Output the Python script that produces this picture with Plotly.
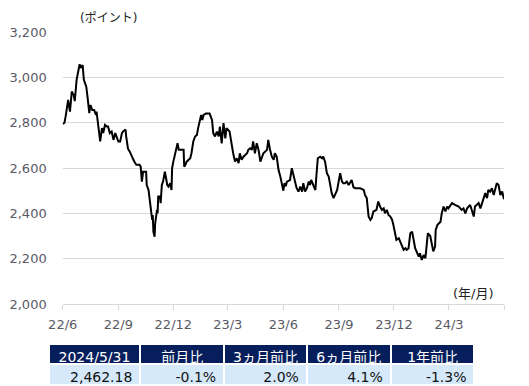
import plotly.graph_objects as go

dates = [
"2022-06-01","2022-06-04","2022-06-06","2022-06-08","2022-06-10","2022-06-13","2022-06-16","2022-06-19","2022-06-21","2022-06-24",
"2022-06-27","2022-06-29","2022-07-01","2022-07-04","2022-07-06","2022-07-10","2022-07-12","2022-07-15","2022-07-17","2022-07-20",
"2022-07-23","2022-07-26","2022-07-27","2022-07-30","2022-08-02","2022-08-05","2022-08-07","2022-08-10","2022-08-13","2022-08-15",
"2022-08-18","2022-08-21","2022-08-24","2022-08-27","2022-08-29","2022-09-01","2022-09-04","2022-09-07","2022-09-09","2022-09-13",
"2022-09-14","2022-09-17","2022-09-20","2022-09-23","2022-09-26","2022-09-29","2022-10-01","2022-10-06",
"2022-10-08","2022-10-10","2022-10-12","2022-10-17","2022-10-18","2022-10-21","2022-10-23","2022-10-25","2022-10-27","2022-10-28",
"2022-10-29","2022-10-31","2022-11-01","2022-11-04","2022-11-05","2022-11-06","2022-11-09","2022-11-10","2022-11-12","2022-11-14",
"2022-11-17","2022-11-19","2022-11-21","2022-11-23","2022-11-26","2022-11-28","2022-11-29","2022-12-01","2022-12-03","2022-12-06",
"2022-12-08","2022-12-10","2022-12-15","2022-12-18","2022-12-19","2022-12-21","2022-12-23","2022-12-26","2022-12-29","2022-12-31",
"2023-01-03","2023-01-06","2023-01-09","2023-01-11","2023-01-14","2023-01-16","2023-01-18","2023-01-20","2023-01-24","2023-01-28",
"2023-01-30","2023-02-03",
"2023-02-05","2023-02-08","2023-02-11","2023-02-14","2023-02-16","2023-02-19","2023-02-22","2023-02-25","2023-02-27","2023-03-04",
"2023-03-08","2023-03-10","2023-03-13","2023-03-16","2023-03-19","2023-03-21","2023-03-24","2023-03-27","2023-04-02","2023-04-04",
"2023-04-07","2023-04-10","2023-04-12","2023-04-15","2023-04-18","2023-04-21","2023-04-24","2023-04-29","2023-05-05","2023-05-07",
"2023-05-10","2023-05-13","2023-05-16","2023-05-18","2023-05-21",
"2023-05-24","2023-05-27","2023-05-29","2023-06-01","2023-06-03","2023-06-05","2023-06-07","2023-06-12","2023-06-15","2023-06-18",
"2023-06-21","2023-06-23","2023-06-26","2023-06-29","2023-07-02","2023-07-04","2023-07-07","2023-07-10","2023-07-13","2023-07-15",
"2023-07-17","2023-07-21","2023-07-24","2023-07-26","2023-07-28","2023-08-01","2023-08-04","2023-08-06","2023-08-09","2023-08-12",
"2023-08-15","2023-08-17","2023-08-20","2023-08-23","2023-08-26","2023-08-29","2023-08-31","2023-09-03","2023-09-06","2023-09-08",
"2023-09-11","2023-09-14","2023-09-17","2023-09-20","2023-09-22","2023-09-25","2023-09-28",
"2023-10-06","2023-10-12","2023-10-14","2023-10-17","2023-10-20","2023-10-23","2023-10-25","2023-10-28","2023-11-02","2023-11-05",
"2023-11-08","2023-11-11","2023-11-14","2023-11-16","2023-11-19","2023-11-22","2023-11-25","2023-11-28","2023-11-30","2023-12-05",
"2023-12-09","2023-12-11","2023-12-14","2023-12-17","2023-12-20","2023-12-22","2023-12-25","2023-12-28","2023-12-31","2024-01-02",
"2024-01-05","2024-01-11","2024-01-13","2024-01-16","2024-01-19","2024-01-22","2024-01-25","2024-01-26","2024-01-30","2024-02-02",
"2024-02-04","2024-02-07",
"2024-02-08","2024-02-11","2024-02-16","2024-02-18","2024-02-21","2024-02-24","2024-02-27","2024-02-29","2024-03-06","2024-03-11",
"2024-03-17","2024-03-22","2024-03-25","2024-03-28","2024-03-31","2024-04-05","2024-04-08","2024-04-11","2024-04-13","2024-04-19",
"2024-04-22","2024-04-25","2024-04-27","2024-04-30","2024-05-03","2024-05-05","2024-05-08","2024-05-11","2024-05-14","2024-05-17",
"2024-05-19","2024-05-22","2024-05-25","2024-05-28","2024-05-31",
]

values = [
2795,2800,2830,2878,2900,2849,2937,2923,2895,2989,
3040,3058,3041,3054,2989,2959,2915,2842,2878,2856,
2856,2834,2849,2790,2717,2776,2754,2790,2783,2783,
2754,2761,2724,2754,2739,2717,2717,2754,2761,2770,
2740,2685,2672,2650,2636,2621,2614,2614,
2606,2540,2584,2584,2525,2503,2459,2400,2371,2393,
2319,2297,2356,2415,2400,2474,2474,2445,2525,2540,
2584,2555,2525,2518,2533,2503,2599,2628,2650,2687,
2709,2680,2680,2680,2606,2614,2628,2636,2643,2665,
2717,2739,2746,2776,2812,2834,2812,2834,2840,2838,
2840,2812,
2754,2739,2761,2739,2783,2709,2798,2731,2776,2761,
2680,2665,2628,2643,2621,2665,2636,2650,2665,2680,
2687,2680,2717,2665,2709,2680,2628,2665,2680,2724,
2680,2650,2636,2665,2650,
2592,2562,2540,2500,2533,2520,2540,2547,2599,2562,
2533,2511,2496,2518,2496,2533,2496,2511,2540,2525,
2547,2525,2503,2577,2643,2650,2643,2650,2628,2577,
2562,2533,2489,2467,2489,2503,2533,2577,2540,2533,
2533,2540,2525,2540,2547,2515,2511,
2511,2503,2481,2467,2386,2371,2378,2408,2415,2452,
2430,2415,2422,2400,2415,2393,2386,2371,2349,2283,
2290,2275,2253,2239,2246,2239,2245,2312,2319,2283,
2246,2209,2224,2194,2216,2202,2268,2312,2300,2250,
2232,2253,
2327,2349,2363,2400,2430,2408,2430,2422,2445,2437,
2430,2415,2422,2400,2422,2437,2408,2386,2430,2445,
2422,2452,2467,2489,2467,2503,2496,2511,2481,2518,
2533,2525,2481,2496,2462.18,
]

tick_dates = ["2022-06-01","2022-09-01","2022-12-01","2023-03-01","2023-06-01",
              "2023-09-01","2023-12-01","2024-03-01","2024-05-31"]
tick_labels = ["22/6","22/9","22/12","23/3","23/6","23/9","23/12","24/3",""]
y_ticks = [2000, 2200, 2400, 2600, 2800, 3000, 3200]

table_header = ["2024/5/31", "前月比", "3ヵ月前比", "6ヵ月前比", "1年前比"]
table_values = ["2,462.18", "-0.1%", "2.0%", "4.1%", "-1.3%"]

W, H = 529, 386
FONT = "DejaVu Sans, Noto Sans CJK JP, sans-serif"
TICK_COLOR = "#5a5a66"

fig = go.Figure()
fig.add_trace(go.Scatter(x=dates, y=values, mode="lines",
                         line=dict(color="#000000", width=2), hoverinfo="skip"))

fig.add_trace(go.Table(
    domain=dict(x=[48.5 / W, 474.5 / W], y=[0, 1 - 343.5 / H]),
    columnwidth=[91, 83, 82, 83, 83],
    header=dict(values=table_header, fill_color="#061f5c",
                font=dict(color="white", size=14, family=FONT),
                align="center", height=20, line=dict(color="white", width=2)),
    cells=dict(values=[[v] for v in table_values], fill_color="#d5e9fb",
               font=dict(color="#111111", size=14, family=FONT),
               align="right", height=21, line=dict(color="white", width=2)),
))

fig.update_layout(
    width=W, height=H,
    margin=dict(l=0, r=0, t=0, b=0),
    paper_bgcolor="white", plot_bgcolor="white",
    showlegend=False,
    font=dict(family=FONT, color=TICK_COLOR, size=13),
    xaxis=dict(domain=[62.7 / W, 504 / W], type="date", automargin=False,
               range=["2022-06-01", "2024-05-31"],
               tickvals=tick_dates, ticktext=tick_labels,
               showgrid=False, showline=True, linecolor="#d9d9d9", linewidth=1,
               ticks="outside", ticklen=5, tickcolor="#d9d9d9",
               tickfont=dict(size=13, color=TICK_COLOR, family=FONT),
               ticklabelstandoff=3, zeroline=False, fixedrange=True),
    yaxis=dict(domain=[1 - 304 / H, 1 - 32 / H], automargin=False,
               range=[2000, 3200], tickvals=y_ticks, tickformat=",",
               showgrid=True, gridcolor="#d9d9d9", gridwidth=1,
               showline=False, zeroline=False, ticks="",
               tickfont=dict(size=13, color=TICK_COLOR, family=FONT),
               ticklabelstandoff=15, fixedrange=True),
    annotations=[
        dict(text="(ポイント)", x=108 / W, y=1 - 18 / H, xref="paper", yref="paper",
             xanchor="center", yanchor="middle",
             showarrow=False, font=dict(size=12, color="#222222", family=FONT)),
        dict(text="(年/月)", x=473 / W, y=1 - 293 / H, xref="paper", yref="paper",
             xanchor="center", yanchor="middle",
             showarrow=False, font=dict(size=13, color="#222222", family=FONT)),
    ],
)

fig.write_html("out.html", config={"displayModeBar": False},
               post_script="document.body.style.margin='0';document.body.style.overflow='hidden';")
